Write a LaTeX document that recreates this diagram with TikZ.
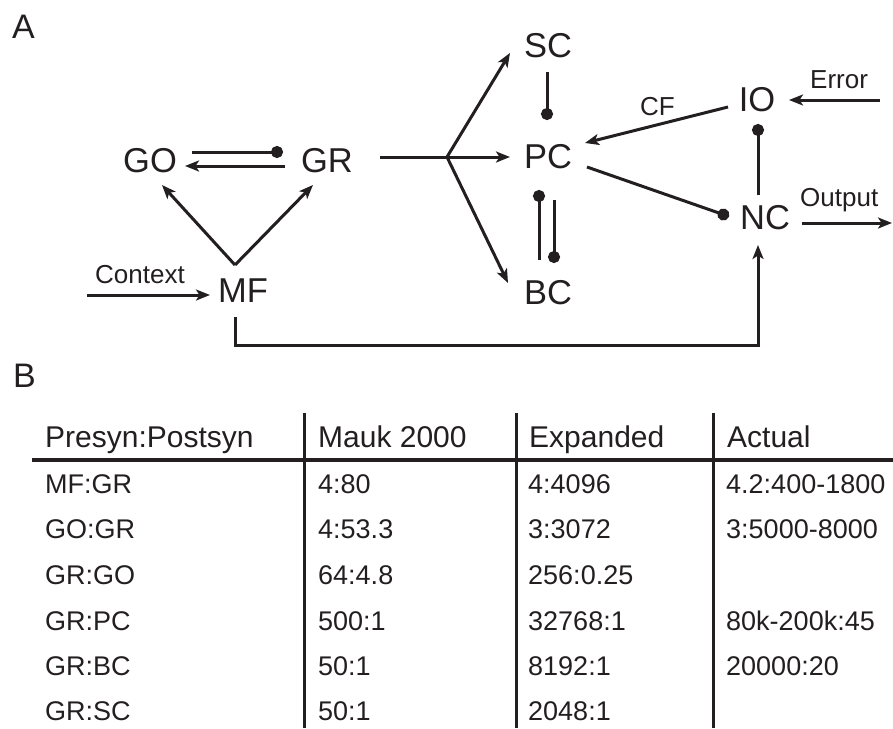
\documentclass[tikz,border=0pt]{standalone}
\usepackage{fontspec}
\setmainfont{Liberation Sans}
\usetikzlibrary{arrows.meta}
\definecolor{ink}{RGB}{35,31,32}
\tikzset{
  cell/.style={font=\fontsize{34.5}{40}\selectfont, inner sep=0pt, text=ink},
  lbl/.style={font=\fontsize{26}{30}\selectfont, inner sep=0pt, text=ink, anchor=base west},
  panel/.style={font=\fontsize{34}{40}\selectfont, inner sep=0pt, text=ink, anchor=base west},
  hdr/.style={font=\fontsize{30}{34}\selectfont, inner sep=0pt, text=ink, anchor=base west},
  tcell/.style={font=\fontsize{27}{32}\selectfont, inner sep=0pt, text=ink, anchor=base west},
  conn/.style={draw=ink, line width=3pt},
  arr/.style={conn, -{Stealth[length=14pt,width=11pt,inset=3.5pt]}},
  ball/.style={conn, -{Circle[length=12pt]}},
  rule/.style={draw=ink, line width=3pt},
}
\begin{document}
\begin{tikzpicture}[x=1pt,y=-1pt]
\useasboundingbox (0,0) rectangle (893,728);
% panel labels
\node[panel] (A) at (12,38) {A};
\node[panel] (B) at (13,387) {B};
% cells
\node[cell] (GO) at (150,161) {GO};
\node[cell] (GR) at (327,161) {GR};
\node[cell] (MF) at (243,291) {MF};
\node[cell] (SC) at (548,46) {SC};
\node[cell] (PC) at (548,157) {PC};
\node[cell] (BC) at (548,293) {BC};
\node[cell] (IO) at (757,100) {IO};
\node[cell] (NC) at (765,218) {NC};
% free ends
\coordinate (ctxin) at (87,295);
\coordinate (J) at (447,157);
\coordinate (errin) at (880,100);
\coordinate (outend) at (892,223);
% labels
\node[lbl] (ctx) at (95,283) {Context};
\node[lbl] (err) at (810,88) {Error};
\node[lbl] (out) at (800,206) {Output};
\node[lbl] (cf) at (640,115) {CF};
% connectors
\draw[ball] ([shift={(42,-9)}]GO.center) -- ([shift={(-44,-9)}]GR.center);
\draw[arr] ([shift={(-42,5)}]GR.center) -- ([shift={(35,5)}]GO.center);
\draw[arr] ([shift={(-8,-26)}]MF.center) -- ([shift={(12,24)}]GO.center);
\draw[arr] ([shift={(-8,-26)}]MF.center) -- ([shift={(-14,24)}]GR.center);
\draw[arr] (ctxin) -- ([shift={(-33,4)}]MF.center);
\draw[conn] ([shift={(53,-4)}]GR.center) -- (J);
\draw[arr] (J) -- ([shift={(-38,7)}]SC.center);
\draw[arr] (J) -- ([shift={(-38,0)}]PC.center);
\draw[arr] (J) -- ([shift={(-40,-10)}]BC.center);
\draw[ball] ([shift={(-1,26)}]SC.center) -- ([shift={(-1,-37)}]PC.center);
\draw[ball] ([shift={(-9,-33)}]BC.center) -- ([shift={(-9,33)}]PC.center);
\draw[ball] ([shift={(6,43)}]PC.center) -- ([shift={(6,-30)}]BC.center);
\draw[arr] ([shift={(-29,7)}]IO.center) -- ([shift={(37,-14)}]PC.center);
\draw[ball] ([shift={(39,10)}]PC.center) -- ([shift={(-36,-1.5)}]NC.center);
\draw[ball] ([shift={(-7,-23)}]NC.center) -- ([shift={(1,24)}]IO.center);
\draw[arr] (errin) -- ([shift={(32,0)}]IO.center);
\draw[arr] ([shift={(37,5)}]NC.center) -- (outend);
\draw[arr] ([shift={(-8,26)}]MF.center) -- ++(0,28) -| ([shift={(-7,27)}]NC.center);
% table
\draw[rule] (304,413) -- (304,728);
\draw[rule] (516,413) -- (516,728);
\draw[rule] (713,413) -- (713,728);
\draw[draw=ink, line width=3.2pt] (32,460) -- (893,460);
\node[hdr] (h1) at (45,447) {Presyn:Postsyn};
\node[hdr] (h2) at (318,447) {Mauk 2000};
\node[hdr] (h3) at (529,447) {Expanded};
\node[hdr] (h4) at (727,447) {Actual};
\node[tcell] (r1a) at (45,493) {MF:GR};
\node[tcell] (r1b) at (318,493) {4:80};
\node[tcell] (r1c) at (528,493) {4:4096};
\node[tcell] (r1d) at (726,493) {4.2:400-1800};
\node[tcell] (r2a) at (45,538) {GO:GR};
\node[tcell] (r2b) at (318,538) {4:53.3};
\node[tcell] (r2c) at (528,538) {3:3072};
\node[tcell] (r2d) at (726,538) {3:5000-8000};
\node[tcell] (r3a) at (45,584) {GR:GO};
\node[tcell] (r3b) at (318,584) {64:4.8};
\node[tcell] (r3c) at (528,584) {256:0.25};
\node[tcell] (r4a) at (45,630) {GR:PC};
\node[tcell] (r4b) at (318,630) {500:1};
\node[tcell] (r4c) at (528,630) {32768:1};
\node[tcell] (r4d) at (726,630) {80k-200k:45};
\node[tcell] (r5a) at (45,675) {GR:BC};
\node[tcell] (r5b) at (318,675) {50:1};
\node[tcell] (r5c) at (528,675) {8192:1};
\node[tcell] (r5d) at (726,675) {20000:20};
\node[tcell] (r6a) at (45,720) {GR:SC};
\node[tcell] (r6b) at (318,720) {50:1};
\node[tcell] (r6c) at (528,720) {2048:1};
\end{tikzpicture}
\end{document}
